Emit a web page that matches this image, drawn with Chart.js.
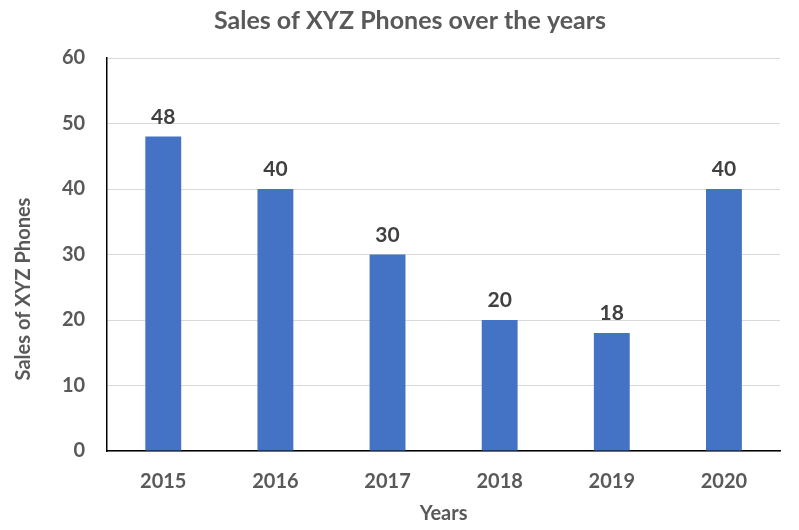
<!DOCTYPE html>
<html><head><meta charset="utf-8">
<script src="https://cdn.jsdelivr.net/npm/chart.js@4/dist/chart.umd.min.js"></script>
<style>html,body{margin:0;padding:0;background:#fff}#wrap{width:799px;height:530px;position:relative}</style>
</head><body><div id="wrap"><canvas id="c" width="799" height="530"></canvas></div>
<script>
const categories = ['2015','2016','2017','2018','2019','2020'];
const sales = [48, 40, 30, 20, 18, 40];
const chartTitle = 'Sales of XYZ Phones over the years';
const xTitle = 'Years';
const yTitle = 'Sales of XYZ Phones';

const FONT = 'Lato, "Open Sans", sans-serif';
const labelPlugin = {
  id: 'barLabels',
  afterDatasetsDraw(chart) {
    const ctx = chart.ctx;
    const meta = chart.getDatasetMeta(0);
    ctx.save();
    ctx.font = 'bold 21px ' + FONT;
    ctx.fillStyle = '#404040';
    ctx.textAlign = 'center';
    ctx.textBaseline = 'alphabetic';
    meta.data.forEach((bar, i) => {
      ctx.fillText(String(sales[i]), bar.x, bar.y - 13);
    });
    ctx.restore();
  }
};
const yTitlePlugin = {
  id: 'yTitleDraw',
  afterDraw(chart) {
    const ctx = chart.ctx;
    const area = chart.chartArea;
    ctx.save();
    ctx.translate(24, area.bottom - 162);
    ctx.rotate(-Math.PI / 2);
    ctx.font = 'bold 20px ' + FONT;
    ctx.fillStyle = '#595959';
    ctx.textAlign = 'center';
    ctx.textBaseline = 'middle';
    ctx.fillText(yTitle, 0, 0);
    ctx.restore();
  }
};

new Chart(document.getElementById('c'), {
  type: 'bar',
  data: { labels: categories, datasets: [{ data: sales, backgroundColor: '#4472C4', barPercentage: 0.32, categoryPercentage: 1 }] },
  options: {
    responsive: false, animation: false,
    layout: { padding: { left: 40, right: 19, top: 0, bottom: 6 } },
    plugins: {
      legend: { display: false }, tooltip: { enabled: false },
      title: { display: true, text: chartTitle, color: '#595959', font: { family: FONT, size: 25, weight: 'bold' }, padding: { top: 6, bottom: 22 } }
    },
    scales: {
      x: {
        grid: { display: false, drawTicks: false },
        border: { color: '#000', width: 1.5 },
        ticks: { color: '#595959', font: { family: FONT, size: 20, weight: 'bold', lineHeight: 1 }, padding: 21 },
        title: { display: true, text: xTitle, color: '#595959', font: { family: FONT, size: 20, weight: 'bold', lineHeight: 1 }, padding: { top: -9, bottom: 0 } }
      },
      y: {
        min: 0, max: 60,
        ticks: { stepSize: 10, color: '#595959', font: { family: FONT, size: 20, weight: 'bold' }, padding: 22 },
        grid: { color: '#D9D9D9', drawTicks: false },
        border: { color: '#000', width: 1.5 },
        title: { display: false }
      }
    }
  },
  plugins: [labelPlugin, yTitlePlugin]
});
</script></body></html>
